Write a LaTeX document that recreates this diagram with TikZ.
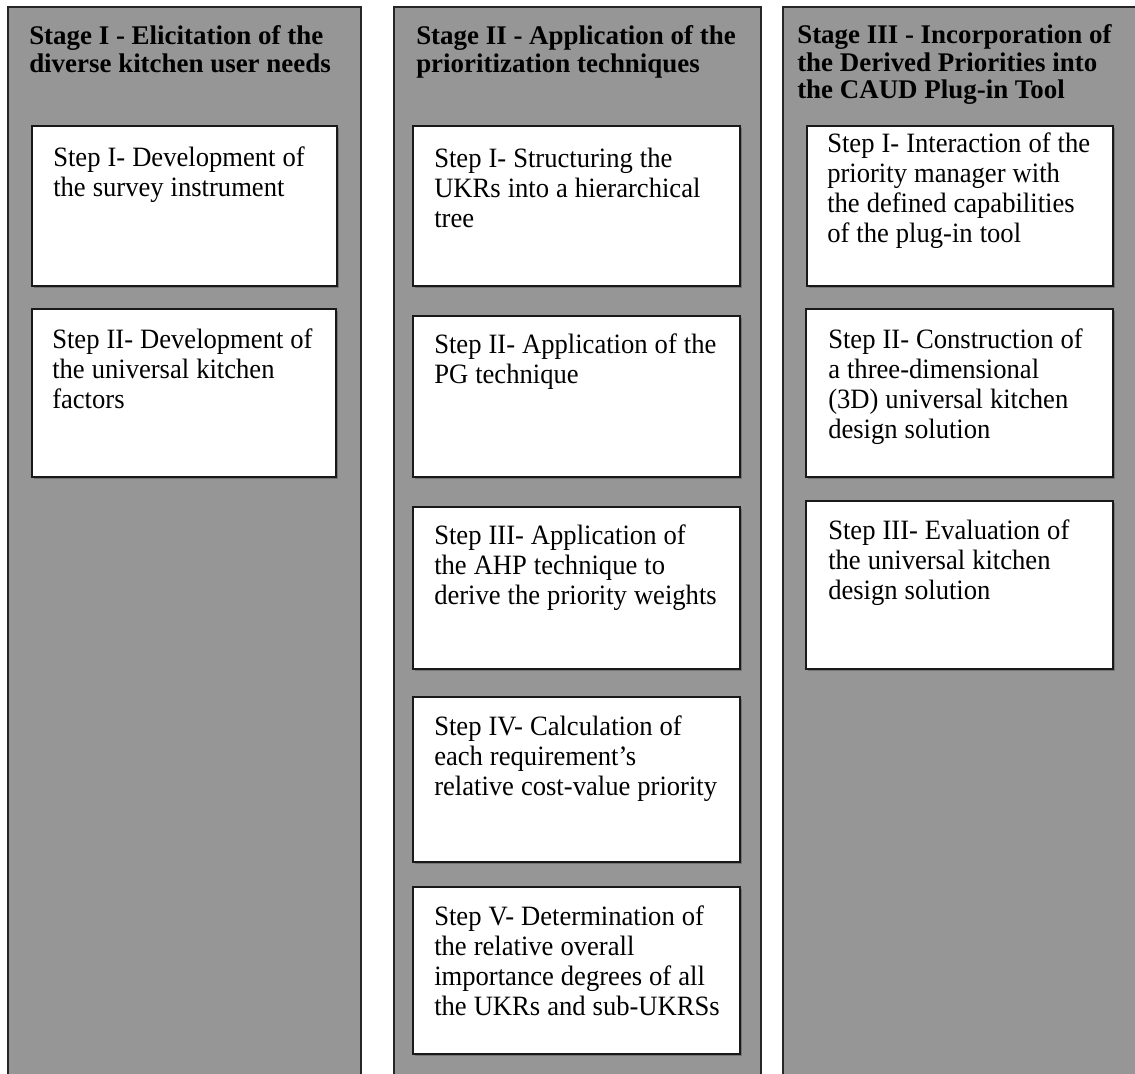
\documentclass[tikz,border=0pt]{standalone}
\usepackage{fontspec}
\setmainfont{Liberation Serif}
\newfontfamily\stepfont[FakeStretch=0.95]{Liberation Serif}
\begin{document}
\begin{tikzpicture}[x=0.75pt,y=-0.75pt,
  column/.style={draw=black!85,line width=1.5pt,fill=colgrey},
  stepbox/.style={draw=black!90,line width=1.5pt,fill=white},
  boxshadow/.style={fill=black!55},
  plainspaces/.style={execute at begin node={\spaceskip=0.25em plus 0.1em minus 0.05em\relax}},
  steptext/.style={anchor=base west,inner sep=0pt,text width=330pt,plainspaces,
    font=\stepfont\fontsize{21pt}{22.5pt}\selectfont},
  stagetext/.style={anchor=base west,inner sep=0pt,text width=330pt,plainspaces,
    font=\fontsize{20.2pt}{20.4pt}\selectfont\bfseries}]
\definecolor{colgrey}{RGB}{150,150,150}
\useasboundingbox (0,0) rectangle (1135,1074);
\clip (0,0) rectangle (1135,1074);

% the three stage columns (they run on past the lower and right edges)
\draw[column] (8,7) rectangle (361,1100);
\draw[column] (394,7) rectangle (761,1100);
\draw[column] (783,7) rectangle (1160,1100);

% stage headings
\node[stagetext] (s1) at (29,45) {Stage I - Elicitation of the\\diverse kitchen user needs};
\node[stagetext] (s2) at (416,45) {Stage II - Application of the\\prioritization techniques};
\node[stagetext] (s3) at (797,44) {Stage III - Incorporation of\\the Derived Priorities into\\the CAUD Plug-in Tool};

% step boxes: left, top, right, bottom
\foreach \l/\t/\r/\b in {32/126/337/286, 32/309/336/477,
    413/126/740/286, 413/316/740/477, 413/507/740/669, 413/697/740/862, 413/887/740/1054,
    807/126/1113/286, 806/309/1113/477, 806/501/1113/669}{
  \fill[boxshadow] (\l+2,\t+2) rectangle (\r+2,\b+2);
  \draw[stepbox] (\l,\t) rectangle (\r,\b);
}

% step texts, stage I
\node[steptext] (a1) at (53,166) {Step I- Development of\\the survey instrument};
\node[steptext] (a2) at (52,348) {Step II- Development of\\the universal kitchen\\factors};

% step texts, stage II
\node[steptext] (b1) at (434,167) {Step I- Structuring the\\UKRs into a hierarchical\\tree};
\node[steptext] (b2) at (434,353) {Step II- Application of the\\PG technique};
\node[steptext] (b3) at (434,544) {Step III- Application of\\the AHP technique to\\derive the priority weights};
\node[steptext] (b4) at (434,735) {Step IV- Calculation of\\each requirement’s\\relative cost-value priority};
\node[steptext] (b5) at (434,925) {Step V- Determination of\\the relative overall\\importance degrees of all\\the UKRs and sub-UKRSs};

% step texts, stage III
\node[steptext] (c1) at (827,152) {Step I- Interaction of the\\priority manager with\\the defined capabilities\\of the plug-in tool};
\node[steptext] (c2) at (828,348) {Step II- Construction of\\a three-dimensional\\(3D) universal kitchen\\design solution};
\node[steptext] (c3) at (828,539) {Step III- Evaluation of\\the universal kitchen\\design solution};
\end{tikzpicture}
\end{document}
